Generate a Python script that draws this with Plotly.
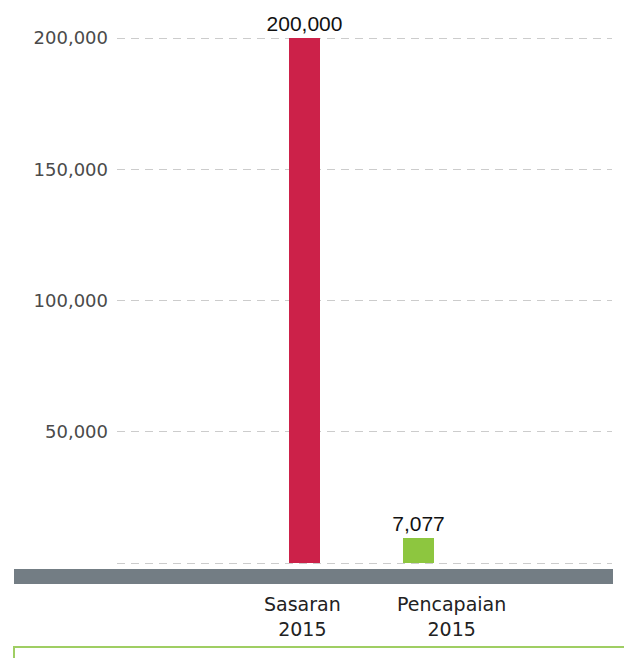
import plotly.graph_objects as go

categories = ["Sasaran 2015", "Pencapaian 2015"]
# bar heights as drawn in the reference (the small bar is drawn a bit taller than its label)
bar_heights = [200000, 9600]
value_labels = ["200,000", "7,077"]
bar_colors = ["#cc2149", "#8dc63f"]
tick_vals = [0, 50000, 100000, 150000, 200000]
tick_text = ["", "50,000", "100,000", "150,000", "200,000"]
cat_label_lines = [["Sasaran", "2015"], ["Pencapaian", "2015"]]

W, H = 624, 658
L, R, T, B = 117, 12, 36, 93
PW, PH = W - L - R, H - T - B
PAD_VAL = 2 * 200000 / 525  # 2px of headroom so edge gridlines are drawn


def px_x(x):
    return (x - L) / PW


def px_y(y):
    return (H - B - y) / PH


fig = go.Figure()
fig.add_trace(go.Bar(
    x=list(range(len(categories))),
    y=bar_heights,
    marker=dict(color=bar_colors, line=dict(width=0)),
    width=0.272,
    text=value_labels,
    textposition="outside",
    constraintext="none",
    textfont=dict(family="Liberation Sans, Arial, sans-serif", size=21, color="#111111"),
    cliponaxis=False,
    hoverinfo="skip",
))

shapes = [
    # grey base band
    dict(type="rect", xref="paper", yref="paper",
         x0=px_x(14), x1=px_x(613), y0=px_y(584), y1=px_y(569),
         fillcolor="#737d84", line=dict(width=0), layer="above"),
    # green frame at the bottom
    dict(type="rect", xref="paper", yref="paper",
         x0=px_x(14), x1=px_x(640), y0=px_y(690), y1=px_y(647),
         fillcolor="rgba(0,0,0,0)", line=dict(color="#9fce63", width=2)),
]

label_shift = [-2.5, 32.5]
annotations = []
for i, lines in enumerate(cat_label_lines):
    annotations.append(dict(
        x=i, xref="x", y=0, yref="paper", yanchor="top", xanchor="center",
        xshift=label_shift[i], yshift=-26,
        text="<br>".join(lines), showarrow=False, align="center",
        font=dict(family="DejaVu Sans, sans-serif", size=19, color="#222222"),
    ))

fig.update_layout(
    width=W, height=H,
    margin=dict(l=L, r=R, t=T, b=B, pad=0),
    paper_bgcolor="white", plot_bgcolor="white",
    showlegend=False,
    bargap=0,
    shapes=shapes,
    annotations=annotations,
    xaxis=dict(
        range=[-(304.5 - L) / 114, 1 + (L + PW - 418.5) / 114],
        showticklabels=False, showgrid=False, zeroline=False, showline=False,
        fixedrange=True,
    ),
    yaxis=dict(
        range=[-PAD_VAL, 200000 + PAD_VAL],
        tickvals=tick_vals, ticktext=tick_text,
        showgrid=True, gridcolor="#cccccc", gridwidth=1, griddash="8px,6px",
        zeroline=False, showline=False, ticks="",
        ticklabelstandoff=8,
        tickfont=dict(family="DejaVu Sans, sans-serif", size=18, color="#4a4a4a"),
        fixedrange=True,
    ),
)

fig.write_html("out.html", config={"displayModeBar": False},
               post_script="document.body.style.margin='0';")
